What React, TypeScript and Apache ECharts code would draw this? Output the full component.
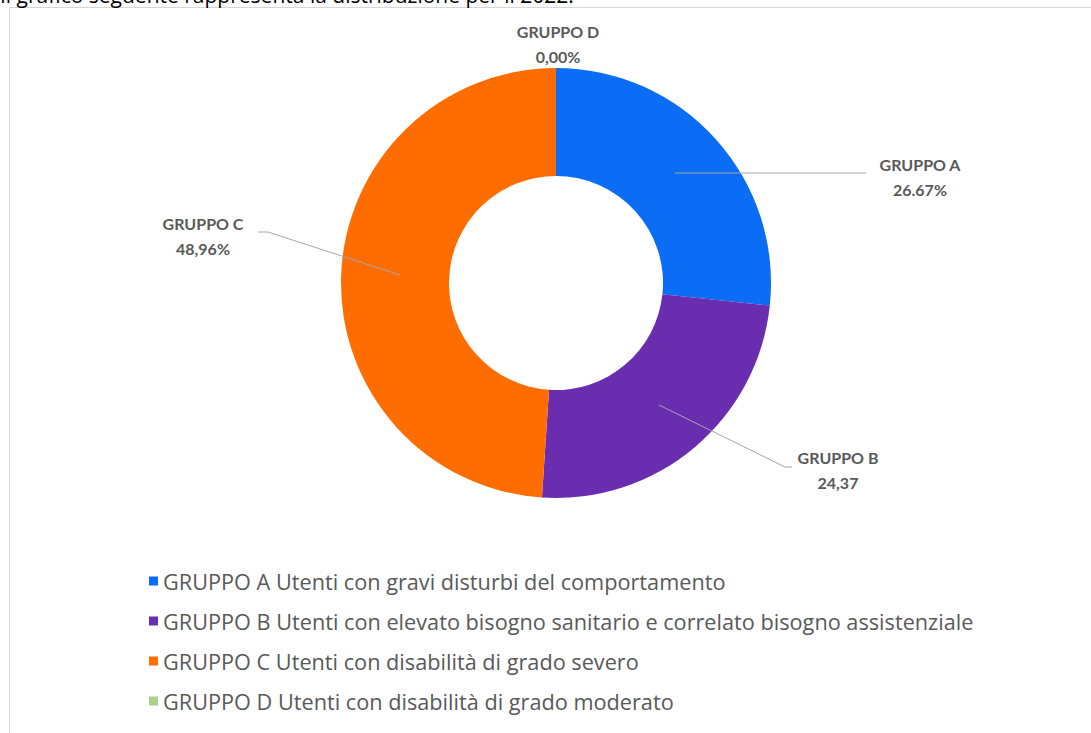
import React, { useEffect, useRef } from "react";
import * as echarts from "echarts";

const CATEGORIES = [
  "GRUPPO A Utenti con gravi disturbi del comportamento",
  "GRUPPO B Utenti con elevato bisogno sanitario e correlato bisogno assistenziale",
  "GRUPPO C Utenti con disabilità di grado severo",
  "GRUPPO D Utenti con disabilità di grado moderato",
];
const VALUES = [26.67, 24.37, 48.96, 0];
const LABELS = ["GRUPPO A\n26.67%", "GRUPPO B\n24,37", "GRUPPO C\n48,96%", "GRUPPO D\n0,00%"];
const COLORS = ["#0B6CF6", "#6A2DB0", "#FF6D00", "#A9D18E"];
const HEADING = "Il grafico seguente rappresenta la distribuzione per il 2022.";

// label placement (pixels) mimicking the original leader lines
const LABEL_LAYOUT = [
  { x: 920, y: 177, line: [[675, 173], [770, 173], [866, 173]] },
  { x: 838, y: 470, line: [[659, 405], [785, 467], [792, 467]] },
  { x: 203, y: 236, line: [[400, 275], [268, 232], [258, 232]] },
  { x: 558, y: 44, line: null },
];

const PIE_CENTER = [556, 283];
const PIE_RADIUS = [107, 215];

export default function App() {
  const ref = useRef<HTMLDivElement>(null);
  useEffect(() => {
    if (!ref.current) return;
    const chart = echarts.init(ref.current, undefined, { renderer: "svg" });
    chart.setOption({
      animation: false,
      backgroundColor: "#ffffff",
      graphic: [
        {
          type: "rect",
          shape: { x: 9.5, y: 7.5, width: 1200, height: 800 },
          style: { fill: "none", stroke: "#d6d6d6", lineWidth: 1 },
          z: -10,
        },
        {
          type: "text",
          x: 0,
          y: 5,
          style: {
            text: HEADING,
            font: '21px "Open Sans"',
            fill: "#000000",
            verticalAlign: "bottom",
          },
        },
      ],
      legend: {
        orient: "vertical",
        left: 144,
        top: 565,
        icon: "rect",
        itemWidth: 9,
        itemHeight: 9,
        itemGap: 18,
        textStyle: { fontFamily: "Open Sans", fontSize: 21.7, color: "#595959" },
        data: CATEGORIES,
      },
      series: [
        {
          type: "pie",
          center: PIE_CENTER,
          radius: PIE_RADIUS,
          startAngle: 90,
          clockwise: true,
          color: COLORS,
          silent: true,
          z: 2,
          label: { show: false },
          labelLine: { show: false },
          data: CATEGORIES.map((name, i) => ({ name, value: VALUES[i] })),
        },
        {
          type: "pie",
          center: PIE_CENTER,
          radius: PIE_RADIUS,
          startAngle: 90,
          clockwise: true,
          silent: true,
          z: 5,
          avoidLabelOverlap: false,
          itemStyle: { color: "rgba(0,0,0,0)" },
          data: CATEGORIES.map((name, i) => ({
            name,
            value: VALUES[i],
            labelLine: { show: LABEL_LAYOUT[i].line !== null },
          })),
          label: {
            show: true,
            position: "outside",
            formatter: (p: any) => LABELS[p.dataIndex],
            fontFamily: "Lato",
            fontWeight: "bold",
            fontSize: 16,
            lineHeight: 25,
            color: "#595959",
            align: "center",
          },
          labelLine: {
            show: true,
            lineStyle: { color: "#A6A6A6", width: 1 },
          },
          labelLayout: (params: any) => {
            const l = LABEL_LAYOUT[params.dataIndex];
            const res: any = { x: l.x, y: l.y, align: "center", verticalAlign: "middle" };
            if (l.line) res.labelLinePoints = l.line;
            return res;
          },
        },
      ],
    });
    return () => chart.dispose();
  }, []);
  return (
    <div
      ref={ref}
      style={{ position: "absolute", left: 0, top: 0, width: 1091, height: 733 }}
    />
  );
}
